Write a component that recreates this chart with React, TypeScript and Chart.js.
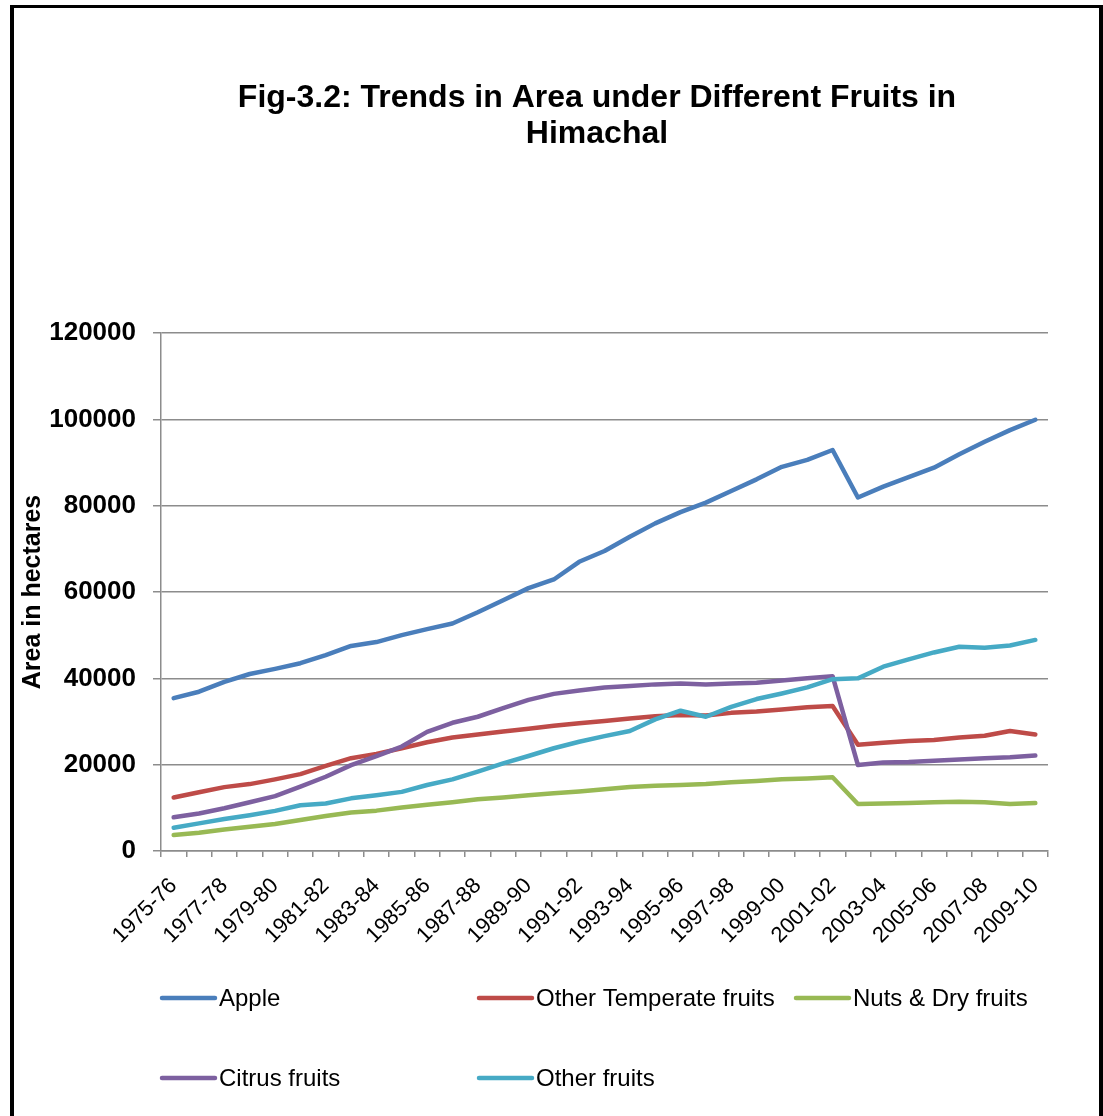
import React, { useEffect, useRef } from "react";
import { Chart, registerables } from "chart.js";

Chart.register(...registerables);

const FONT = '"Liberation Sans", Arial, Helvetica, sans-serif';

const categories = [
  "1975-76", "1976-77", "1977-78", "1978-79", "1979-80", "1980-81", "1981-82",
  "1982-83", "1983-84", "1984-85", "1985-86", "1986-87", "1987-88", "1988-89",
  "1989-90", "1990-91", "1991-92", "1992-93", "1993-94", "1994-95", "1995-96",
  "1996-97", "1997-98", "1998-99", "1999-00", "2000-01", "2001-02", "2002-03",
  "2003-04", "2004-05", "2005-06", "2006-07", "2007-08", "2008-09", "2009-10",
];

const apple = [
  35400, 36900, 39200, 41000, 42200, 43500, 45400, 47500, 48400, 50000, 51400,
  52700, 55300, 58100, 60900, 62900, 67000, 69500, 72800, 75900, 78500, 80700,
  83400, 86100, 89000, 90600, 92900, 81900, 84400, 86600, 88800, 91900, 94800,
  97500, 99900,
];

const otherTemperate = [
  12400, 13600, 14800, 15500, 16600, 17800, 19700, 21500, 22500, 23800, 25200,
  26300, 27000, 27700, 28300, 29000, 29600, 30100, 30700, 31200, 31500, 31400,
  32000, 32300, 32800, 33300, 33600, 24600, 25100, 25500, 25700, 26300, 26700,
  27800, 27000,
];

const nutsDry = [
  3700, 4250, 5000, 5600, 6250, 7200, 8100, 8900, 9350, 10100, 10700, 11300,
  12000, 12400, 12900, 13400, 13800, 14300, 14800, 15100, 15300, 15500, 15900,
  16200, 16600, 16800, 17100, 10900, 11000, 11100, 11300, 11400, 11300, 10900,
  11100,
];

const citrus = [
  7800, 8700, 9900, 11300, 12700, 14900, 17200, 19900, 22000, 24200, 27600,
  29700, 31100, 33100, 35000, 36400, 37200, 37900, 38200, 38600, 38800, 38600,
  38800, 39000, 39500, 40000, 40500, 19900, 20500, 20600, 20900, 21200, 21500,
  21700, 22100,
];

const otherFruits = [
  5400, 6400, 7400, 8300, 9300, 10600, 11000, 12200, 12900, 13700, 15300, 16600,
  18400, 20300, 22000, 23800, 25300, 26600, 27800, 30500, 32500, 31100, 33400,
  35200, 36500, 37900, 39800, 40000, 42700, 44400, 46000, 47300, 47100, 47600,
  48900,
];

const seriesNames = [
  "Apple",
  "Other Temperate fruits",
  "Nuts & Dry fruits",
  "Citrus fruits",
  "Other fruits",
];
const seriesValues = [apple, otherTemperate, nutsDry, citrus, otherFruits];
const seriesColors = ["#4A7EBB", "#BE4B48", "#98B954", "#7D60A0", "#46AAC5"];

const titleLines = ["Fig-3.2: Trends in Area under Different Fruits in", "Himachal"];
const yAxisTitle = "Area in hectares";
const yMin = 0;
const yMax = 120000;
const yStep = 20000;

const GRID = "#8C8C8C";

const figTitlePlugin = {
  id: "figTitle",
  afterDraw(chart: any) {
    const { ctx, chartArea } = chart;
    ctx.save();
    ctx.font = `bold 32px ${FONT}`;
    ctx.fillStyle = "#000";
    ctx.textAlign = "center";
    ctx.textBaseline = "alphabetic";
    const cx = (chartArea.left + chartArea.right) / 2 - 7.5;
    titleLines.forEach((t, i) => ctx.fillText(t, cx, 107 + i * 36));
    ctx.restore();
  },
};

const gridLegendPlugin = {
  id: "gridLegend",
  afterDraw(chart: any) {
    const { ctx } = chart;
    const cols = 3;
    const colW = 317;
    const x0 = 160;
    const y0 = 998;
    const rowH = 80;
    const lineLen = 57;
    ctx.save();
    chart.data.datasets.forEach((ds: any, i: number) => {
      const r = Math.floor(i / cols);
      const c = i % cols;
      const x = x0 + c * colW;
      const y = y0 + r * rowH;
      ctx.strokeStyle = ds.borderColor;
      ctx.lineWidth = 4.5;
      ctx.lineCap = "round";
      ctx.beginPath();
      ctx.moveTo(x + 2, y);
      ctx.lineTo(x + lineLen - 2, y);
      ctx.stroke();
      ctx.font = `24px ${FONT}`;
      ctx.fillStyle = "#000";
      ctx.textAlign = "left";
      ctx.textBaseline = "middle";
      ctx.fillText(ds.label, x + lineLen + 2, y + 1);
    });
    ctx.restore();
  },
};

export default function App() {
  const ref = useRef<HTMLCanvasElement>(null);

  useEffect(() => {
    if (!ref.current) return;
    Chart.defaults.font.family = FONT;
    const chart = new Chart(ref.current, {
      type: "line",
      data: {
        labels: categories,
        datasets: seriesNames.map((name, i) => ({
          label: name,
          data: seriesValues[i],
          borderColor: seriesColors[i],
          backgroundColor: seriesColors[i],
          borderWidth: 4.5,
          pointRadius: 0,
          pointHoverRadius: 0,
          tension: 0,
          fill: false,
          borderJoinStyle: "round",
          borderCapStyle: "round",
          order: seriesNames.length - i,
        })),
      },
      options: {
        responsive: false,
        animation: false,
        events: [],
        layout: { padding: { top: 333, left: 0, right: 55, bottom: 145 } },
        plugins: {
          legend: { display: false },
          title: { display: false },
          tooltip: { enabled: false },
        },
        scales: {
          x: {
            type: "category",
            offset: true,
            grid: {
              display: true,
              drawOnChartArea: false,
              drawTicks: true,
              tickLength: 6,
              offset: true,
              color: GRID,
              lineWidth: 1.5,
            },
            border: { display: true, color: GRID, width: 1.5 },
            ticks: {
              autoSkip: false,
              maxRotation: 45,
              minRotation: 45,
              padding: 16,
              color: "#000",
              font: { size: 22, family: FONT },
              callback: (_v: any, i: number) => (i % 2 === 0 ? categories[i] : ""),
            },
            afterFit: (s: any) => {
              s.height = 120;
            },
          },
          y: {
            min: yMin,
            max: yMax,
            ticks: {
              stepSize: yStep,
              padding: 17,
              color: "#000",
              font: { size: 26, weight: "bold", family: FONT },
              callback: (v: any) => String(v),
            },
            grid: { color: GRID, lineWidth: 1.5, tickLength: 8, drawTicks: true },
            border: { display: true, color: GRID, width: 1.5 },
            title: {
              display: true,
              text: yAxisTitle,
              color: "#000",
              font: { size: 25, weight: "bold", family: FONT },
              padding: { top: 18, bottom: 0 },
            },
            afterFit: (s: any) => {
              s.width = 161;
            },
          },
        },
      } as any,
      plugins: [figTitlePlugin, gridLegendPlugin],
    });
    return () => chart.destroy();
  }, []);

  return (
    <div
      style={{
        position: "absolute",
        left: 0,
        top: 0,
        width: 1103,
        height: 1116,
        overflow: "hidden",
        background: "#fff",
      }}
    >
      <div
        style={{
          position: "absolute",
          left: 10,
          top: 5,
          width: 1093,
          height: 1200,
          borderLeft: "4px solid #000",
          borderTop: "3px solid #000",
          borderRight: "4px solid #000",
          boxSizing: "border-box",
        }}
      />
      <canvas
        ref={ref}
        width={1103}
        height={1116}
        style={{ position: "absolute", left: 0, top: 0 }}
      />
    </div>
  );
}
